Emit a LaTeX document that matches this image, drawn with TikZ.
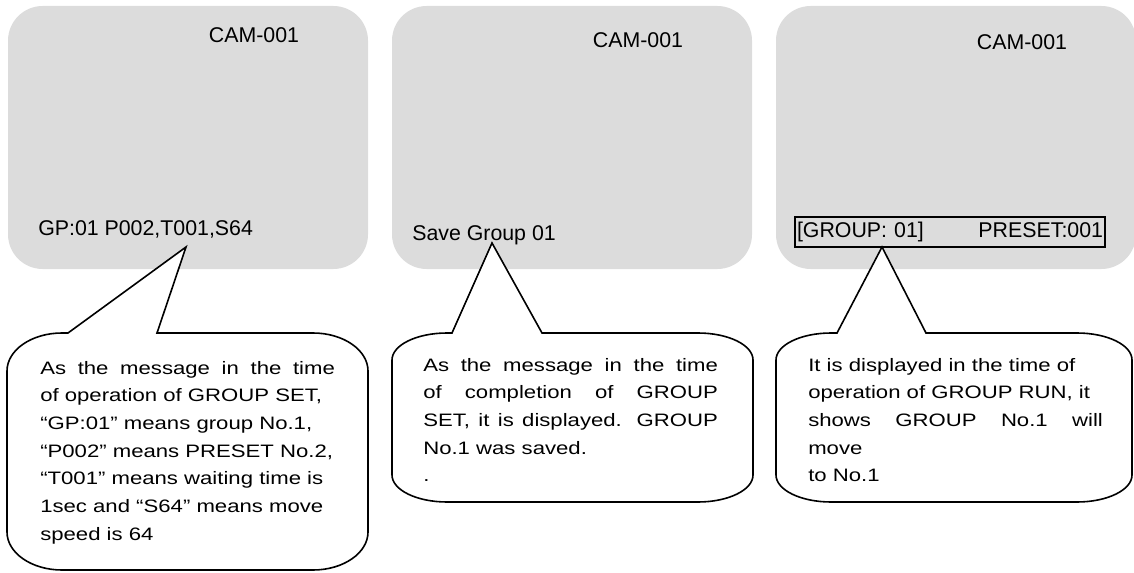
\documentclass[tikz,border=0pt]{standalone}
\usepackage{fontspec}
\setmainfont{Liberation Sans}
\newfontfamily\notefont[FakeStretch=1.23]{Liberation Sans}
\usetikzlibrary{positioning}
\definecolor{ScreenGray}{HTML}{DCDCDC}
\tikzset{
  screen/.style={fill=ScreenGray,rounded corners=26pt},
  lbl/.style={inner sep=0pt,font=\fontsize{16pt}{19pt}\selectfont},
  bubble/.style={draw,fill=white,line width=1.2pt},
  note/.style={inner sep=0pt,anchor=base west,font=\notefont\fontsize{13.5pt}{20.8pt}\selectfont}
}
\begin{document}
\begin{tikzpicture}[x=0.75pt,y=0.75pt]
\useasboundingbox (0,0) rectangle (1134,572);
\clip (0,0) rectangle (1134,572);
\foreach \x/\cy [count=\i] in {8/529,392/524,776/522}{
  \fill[screen] (\x,303) rectangle ++(360,263);
  \node[lbl,anchor=base] (cam\i) at ({\x+246},\cy) {CAM-001};
}
\node[lbl,anchor=base west] (gp) at (38,336) {GP:01 P002,T001,S64};
\node[lbl,anchor=base west] (save) at (412,332) {Save Group 01};
\node[lbl,draw,line width=1.1pt,inner xsep=1.5pt,text width=229.5pt,minimum height=22.5pt] (grp) at (950,340) {[GROUP: 01]\hfill PRESET:001};
\coordinate (tip1) at (186,325);
\coordinate (tip2) at (492,329);
\coordinate (tip3) at (882,325);
\foreach \xl/\xr/\yb/\ry/\bl/\br/\tip in {7/368/2/38/68/157/tip1,392/753/70/27/452/542/tip2,776/1132/70/27/837/926/tip3}
  \draw[bubble] (\bl,239) -- (\tip) -- (\br,239) -- ({\xr-55},239) arc[start angle=90,end angle=0,x radius=55,y radius=\ry]
    -- (\xr,{\yb+\ry}) arc[start angle=0,end angle=-90,x radius=55,y radius=\ry]
    -- ({\xl+55},\yb) arc[start angle=270,end angle=180,x radius=55,y radius=\ry]
    -- (\xl,{239-\ry}) arc[start angle=180,end angle=90,x radius=55,y radius=\ry] -- cycle;
\node[note] (n1) at (40,198) {\parbox[t]{221pt}{As the message in the time\linebreak of operation of GROUP SET,\\ “GP:01” means group No.1,\\ “P002” means PRESET No.2,\\ “T001” means waiting time is\\ 1sec and “S64” means move\\ speed is 64}};
\node[note] (n2) at (423,201) {\parbox[t]{221pt}{As the message in the time\linebreak of completion of GROUP\linebreak SET, it is displayed. GROUP\linebreak No.1 was saved.\\ .}};
\node[note] (n3) at (808,201) {\parbox[t]{221pt}{It is displayed in the time of\\ operation of GROUP RUN, it\\ shows GROUP No.1 will\linebreak move\\ to No.1}};
\end{tikzpicture}
\end{document}
